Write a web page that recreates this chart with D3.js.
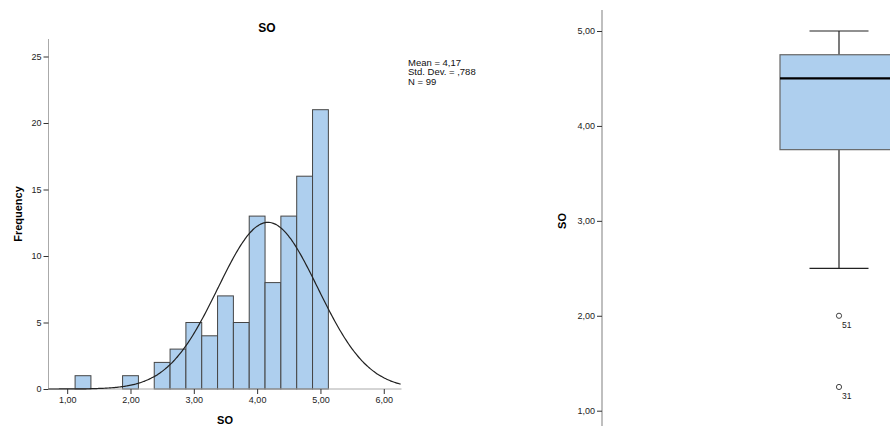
<!DOCTYPE html>
<html lang="en">
<head>
    <meta charset="UTF-8">
    <title>SO</title>
    <script src="https://d3js.org/d3.v7.min.js"></script>
    <style>
        html, body {
            margin: 0;
            padding: 0;
            background: #ffffff;
        }

        svg {
            display: block;
            font-family: "Liberation Sans", Arial, sans-serif;
        }

        .tick text {
            font-size: 9px;
            fill: #222;
        }

        .axis-title {
            font-size: 11px;
            font-weight: bold;
            fill: #000;
        }
    </style>
</head>
<body>
    <svg id="chart" width="890" height="426"></svg>

    <script>
        // histogram bins (centre of bin) and counts
        var binCenters = [1.25, 1.5, 1.75, 2.0, 2.25, 2.5, 2.75, 3.0, 3.25, 3.5, 3.75, 4.0, 4.25, 4.5, 4.75, 5.0];
        var binCounts  = [1,    0,   0,    1,   0,    2,   3,    5,   4,    7,   5,    13,  8,    13,  16,   21];
        var binWidth = 0.25;

        // summary stats shown in the legend
        var statLabels = ["Mean = 4,17", "Std. Dev. = ,788", "N = 99"];
        var meanVal = 4.17, sdVal = 0.788, nVal = 99;

        var histXTicks = [1, 2, 3, 4, 5, 6];
        var histYTicks = [0, 5, 10, 15, 20, 25];

        // boxplot summary
        var boxStats = {min: 2.5, q1: 3.75, median: 4.5, q3: 4.75, max: 5.0};
        var outlierValues = [2.0, 1.25];
        var outlierLabels = ["51", "31"];
        var boxYTicks = [1, 2, 3, 4, 5];

        var comma = function(d) { return d3.format(".2f")(d).replace(".", ","); };

        var svg = d3.select("#chart");

        /* ---------- Histogram ---------- */
        var x = d3.scaleLinear().domain([0.705, 6.28]).range([48.5, 401.5]);
        var y = d3.scaleLinear().domain([0, 25]).range([389, 56.5]);

        var hist = svg.append("g");

        hist.selectAll(".bar")
            .data(binCenters.map(function(c, i) { return {c: c, n: binCounts[i]}; }).filter(function(d) { return d.n > 0; }))
            .enter().append("rect")
            .attr("class", "bar")
            .attr("x", function(d) { return x(d.c - binWidth / 2); })
            .attr("y", function(d) { return y(d.n); })
            .attr("width", function(d) { return x(d.c + binWidth / 2) - x(d.c - binWidth / 2); })
            .attr("height", function(d) { return y(0) - y(d.n); })
            .attr("fill", "#aecfee")
            .attr("stroke", "#454545")
            .attr("stroke-width", 1);

        // x axis
        var xAxis = hist.append("g")
            .attr("transform", "translate(0," + y(0) + ")")
            .call(d3.axisBottom(x).tickValues(histXTicks).tickFormat(comma).tickSize(5).tickPadding(3));
        xAxis.select(".domain").attr("stroke", "#aaa").attr("d", "M" + x.range()[0] + ",0H" + x.range()[1]);
        xAxis.selectAll(".tick line").attr("stroke", "#333");

        // y axis
        var yAxis = hist.append("g")
            .attr("transform", "translate(" + x.range()[0] + ",0)")
            .call(d3.axisLeft(y).tickValues(histYTicks).tickSize(5).tickPadding(2));
        yAxis.select(".domain").attr("stroke", "#aaa").attr("d", "M0," + y(0) + "V39");
        yAxis.selectAll(".tick line").attr("stroke", "#333");

        // normal curve from the reported mean / sd
        var curveXs = d3.range(x.domain()[0], x.domain()[1] + 0.001, 0.02);
        var normal = function(v) {
            return nVal * binWidth / (sdVal * Math.sqrt(2 * Math.PI)) * Math.exp(-0.5 * Math.pow((v - meanVal) / sdVal, 2));
        };
        hist.append("path")
            .datum(curveXs)
            .attr("fill", "none")
            .attr("stroke", "#222")
            .attr("stroke-width", 1.2)
            .attr("d", d3.line().x(function(d) { return x(d); }).y(function(d) { return y(normal(d)); }).curve(d3.curveBasis));

        hist.append("text")
            .attr("x", 267).attr("y", 32)
            .attr("text-anchor", "middle")
            .attr("class", "axis-title")
            .style("font-size", "12px")
            .text("SO");

        hist.append("text")
            .attr("x", 225).attr("y", 424)
            .attr("text-anchor", "middle")
            .attr("class", "axis-title")
            .text("SO");

        hist.append("text")
            .attr("transform", "translate(22,214) rotate(-90)")
            .attr("text-anchor", "middle")
            .attr("class", "axis-title")
            .text("Frequency");

        hist.selectAll(".stat")
            .data(statLabels)
            .enter().append("text")
            .attr("class", "stat")
            .attr("x", 408)
            .attr("y", function(d, i) { return 65.5 + i * 9.5; })
            .style("font-size", "9.5px")
            .attr("fill", "#111")
            .text(function(d) { return d; });

        /* ---------- Boxplot ---------- */
        var by = d3.scaleLinear().domain([1, 5]).range([410.7, 31]);
        var bx = 839, boxHalf = 59, capHalf = 29.5;
        var axisX = 602;

        var box = svg.append("g");

        var bAxis = box.append("g")
            .attr("transform", "translate(" + axisX + ",0)")
            .call(d3.axisLeft(by).tickValues(boxYTicks).tickFormat(comma).tickSize(5).tickPadding(2));
        bAxis.select(".domain").attr("stroke", "#aaa").attr("stroke-width", 1.5).attr("d", "M0,426V10");
        bAxis.selectAll(".tick line").attr("stroke", "#333");

        // whiskers
        box.selectAll(".whisker")
            .data([[boxStats.q3, boxStats.max], [boxStats.q1, boxStats.min]])
            .enter().append("line")
            .attr("x1", bx).attr("x2", bx)
            .attr("y1", function(d) { return by(d[0]); })
            .attr("y2", function(d) { return by(d[1]); })
            .attr("stroke", "#222").attr("stroke-width", 1.2);

        box.selectAll(".cap")
            .data([boxStats.max, boxStats.min])
            .enter().append("line")
            .attr("x1", bx - capHalf).attr("x2", bx + capHalf)
            .attr("y1", function(d) { return by(d); })
            .attr("y2", function(d) { return by(d); })
            .attr("stroke", "#222").attr("stroke-width", 1.2);

        box.append("rect")
            .attr("x", bx - boxHalf)
            .attr("y", by(boxStats.q3))
            .attr("width", boxHalf * 2)
            .attr("height", by(boxStats.q1) - by(boxStats.q3))
            .attr("fill", "#aecfee")
            .attr("stroke", "#666")
            .attr("stroke-width", 1.2);

        box.append("line")
            .attr("x1", bx - boxHalf).attr("x2", bx + boxHalf)
            .attr("y1", by(boxStats.median)).attr("y2", by(boxStats.median))
            .attr("stroke", "#000").attr("stroke-width", 2.2);

        box.selectAll(".outlier")
            .data(outlierValues)
            .enter().append("circle")
            .attr("cx", bx)
            .attr("cy", function(d) { return by(d); })
            .attr("r", 2.6)
            .attr("fill", "none")
            .attr("stroke", "#444");

        box.selectAll(".outlier-label")
            .data(outlierValues)
            .enter().append("text")
            .attr("x", bx + 3)
            .attr("y", function(d) { return by(d) + 12; })
            .style("font-size", "8.5px")
            .attr("fill", "#222")
            .text(function(d, i) { return outlierLabels[i]; });

        box.append("text")
            .attr("transform", "translate(566,221) rotate(-90)")
            .attr("text-anchor", "middle")
            .attr("class", "axis-title")
            .text("SO");
    </script>
</body>
</html>
